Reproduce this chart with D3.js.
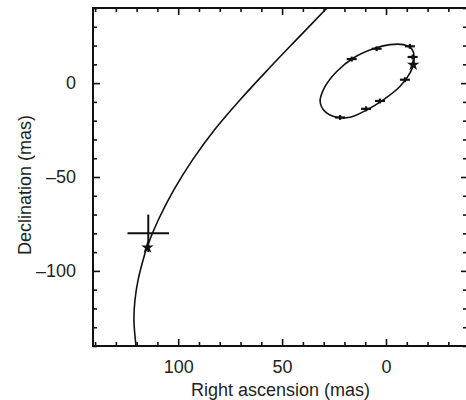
<!DOCTYPE html>
<html>
<head>
<meta charset="utf-8">
<script src="https://cdn.jsdelivr.net/npm/d3@7"></script>
<style>
  body { margin: 0; background: #fff; }
  svg { display: block; }
  text { font-family: "Liberation Sans", Arial, sans-serif; fill: #231f20; }
</style>
</head>
<body>
<div id="viz"></div>
<script>
// tick labels
const raTicks = [100, 50, 0];
const decTicks = [0, -50, -100];

// long trajectory (RA, Dec in mas)
const pathRA = [28.4, 43.3, 57.0, 70.3, 82.6, 93.1, 102.1, 109.6, 115.0, 116.9, 119.3, 120.8, 121.3, 120.3];
const pathDec = [40.0, 22.9, 7.0, -9.0, -25.0, -40.9, -56.9, -72.9, -87.3, -94.2, -104.8, -115.5, -126.1, -140];

// closed orbit
const orbitRA = [31.7, 29.3, 23.7, 17.3, 9.3, 1.3, -6.7, -11.5, -13.5, -12.4, -8.3, -1.9, 6.1, 15.7, 23.7, 29.3];
const orbitDec = [-9.8, -15.2, -18.2, -18.2, -14.3, -8.9, -1.8, 5.3, 11.6, 18.2, 20.5, 20.5, 18.3, 13.4, 6.2, -1.8];

// epochs measured on the orbit
const epochRA = [16.5, 4.5, -11.5, -12.8, -9.1, 2.9, 9.6, 22.1];
const epochDec = [12.8, 18.3, 19.6, 13.9, 1.8, -9.5, -13.7, -18.3];
const epochErrRA = 2.4;
const epochErrDec = 1.3;

// star positions
const starRA = [114.8, -13.1];
const starDec = [-87.5, 9.8];

// cross (position with error)
const crossRA = 114.4;
const crossDec = -80;
const crossErr = 10;

const width = 466, height = 400;
const margin = {top: 8, right: 0, bottom: 54, left: 93};

const svg = d3.select('#viz')
  .append('svg')
  .attr('width', width)
  .attr('height', height);

const x = d3.scaleLinear().domain([141, -38.5]).range([margin.left, width]);
const y = d3.scaleLinear().domain([40, -140]).range([margin.top, height - margin.bottom]);

const minorX = d3.range(140, -40, -10).filter(v => !raTicks.includes(v));
const minorY = d3.range(40, -141, -10).filter(v => !decTicks.includes(v));

const x0 = x.range()[0], x1 = x.range()[1];
const y0 = y.range()[0], y1 = y.range()[1];

function styleAxis(g) {
  g.select('.domain').remove();
  g.selectAll('line').attr('stroke', '#111').attr('stroke-width', 1.6);
  g.selectAll('text').attr('font-size', 18).attr('fill', '#231f20');
}

// bottom
svg.append('g').attr('transform', `translate(0,${y1})`)
  .call(d3.axisBottom(x).tickValues(raTicks).tickSize(-7).tickPadding(14).tickFormat(d3.format('d')))
  .call(styleAxis);
svg.append('g').attr('transform', `translate(0,${y1})`)
  .call(d3.axisBottom(x).tickValues(minorX).tickSize(-4).tickFormat(''))
  .call(styleAxis);

// top
svg.append('g').attr('transform', `translate(0,${y0})`)
  .call(d3.axisTop(x).tickValues(raTicks).tickSize(-7).tickFormat(''))
  .call(styleAxis);
svg.append('g').attr('transform', `translate(0,${y0})`)
  .call(d3.axisTop(x).tickValues(minorX).tickSize(-4).tickFormat(''))
  .call(styleAxis);

// left
svg.append('g').attr('transform', `translate(${x0},0)`)
  .call(d3.axisLeft(y).tickValues(decTicks).tickSize(-7).tickPadding(17)
    .tickFormat(d => d < 0 ? '\u2013' + Math.abs(d) : d))
  .call(styleAxis);
svg.append('g').attr('transform', `translate(${x0},0)`)
  .call(d3.axisLeft(y).tickValues(minorY).tickSize(-4).tickFormat(''))
  .call(styleAxis);

// right
svg.append('g').attr('transform', `translate(${x1},0)`)
  .call(d3.axisRight(y).tickValues(decTicks).tickSize(-5).tickFormat(''))
  .call(styleAxis);
svg.append('g').attr('transform', `translate(${x1},0)`)
  .call(d3.axisRight(y).tickValues(minorY).tickSize(-3).tickFormat(''))
  .call(styleAxis);

// frame
svg.append('path')
  .attr('d', `M${x1},${y0}H${x0}V${y1}H${x1}`)
  .attr('fill', 'none')
  .attr('stroke', '#111')
  .attr('stroke-width', 2);

svg.append('clipPath').attr('id', 'clip')
  .append('rect')
  .attr('x', x0).attr('y', y0)
  .attr('width', x1 - x0).attr('height', y1 - y0);

const plot = svg.append('g').attr('clip-path', 'url(#clip)');

const line = d3.line()
  .x(d => x(d[0]))
  .y(d => y(d[1]));

plot.append('path')
  .datum(pathRA.map((v, i) => [v, pathDec[i]]))
  .attr('d', line.curve(d3.curveCatmullRom.alpha(0.5)))
  .attr('fill', 'none')
  .attr('stroke', '#111')
  .attr('stroke-width', 1.6);

plot.append('path')
  .datum(orbitRA.map((v, i) => [v, orbitDec[i]]))
  .attr('d', line.curve(d3.curveCatmullRomClosed))
  .attr('fill', 'none')
  .attr('stroke', '#111')
  .attr('stroke-width', 1.6);

// epoch markers
const epochs = epochRA.map((v, i) => ({ra: v, dec: epochDec[i]}));
const marks = plot.selectAll('.epoch')
  .data(epochs)
  .enter()
  .append('g')
  .attr('class', 'epoch');
marks.append('line')
  .attr('x1', d => x(d.ra + epochErrRA))
  .attr('x2', d => x(d.ra - epochErrRA))
  .attr('y1', d => y(d.dec))
  .attr('y2', d => y(d.dec))
  .attr('stroke', '#111')
  .attr('stroke-width', 2.2);
marks.append('line')
  .attr('x1', d => x(d.ra))
  .attr('x2', d => x(d.ra))
  .attr('y1', d => y(d.dec + epochErrDec))
  .attr('y2', d => y(d.dec - epochErrDec))
  .attr('stroke', '#111')
  .attr('stroke-width', 2.2);

// cross
plot.append('line')
  .attr('x1', x(crossRA + crossErr)).attr('x2', x(crossRA - crossErr))
  .attr('y1', y(crossDec)).attr('y2', y(crossDec))
  .attr('stroke', '#111').attr('stroke-width', 2);
plot.append('line')
  .attr('x1', x(crossRA)).attr('x2', x(crossRA))
  .attr('y1', y(crossDec + crossErr)).attr('y2', y(crossDec - crossErr))
  .attr('stroke', '#111').attr('stroke-width', 2);

// stars
plot.selectAll('.star')
  .data(starRA.map((v, i) => [v, starDec[i]]))
  .enter()
  .append('path')
  .attr('class', 'star')
  .attr('transform', d => `translate(${x(d[0])},${y(d[1])})`)
  .attr('d', d3.symbol().type(d3.symbolStar).size(48))
  .attr('fill', '#111');

// axis titles
svg.append('text')
  .attr('x', (x0 + 466) / 2 + 1)
  .attr('y', 396)
  .attr('text-anchor', 'middle')
  .attr('font-size', 18)
  .text('Right ascension (mas)');

svg.append('text')
  .attr('transform', `translate(31,${(y0 + y1) / 2 + 8}) rotate(-90)`)
  .attr('text-anchor', 'middle')
  .attr('font-size', 18)
  .text('Declination (mas)');
</script>
</body>
</html>
